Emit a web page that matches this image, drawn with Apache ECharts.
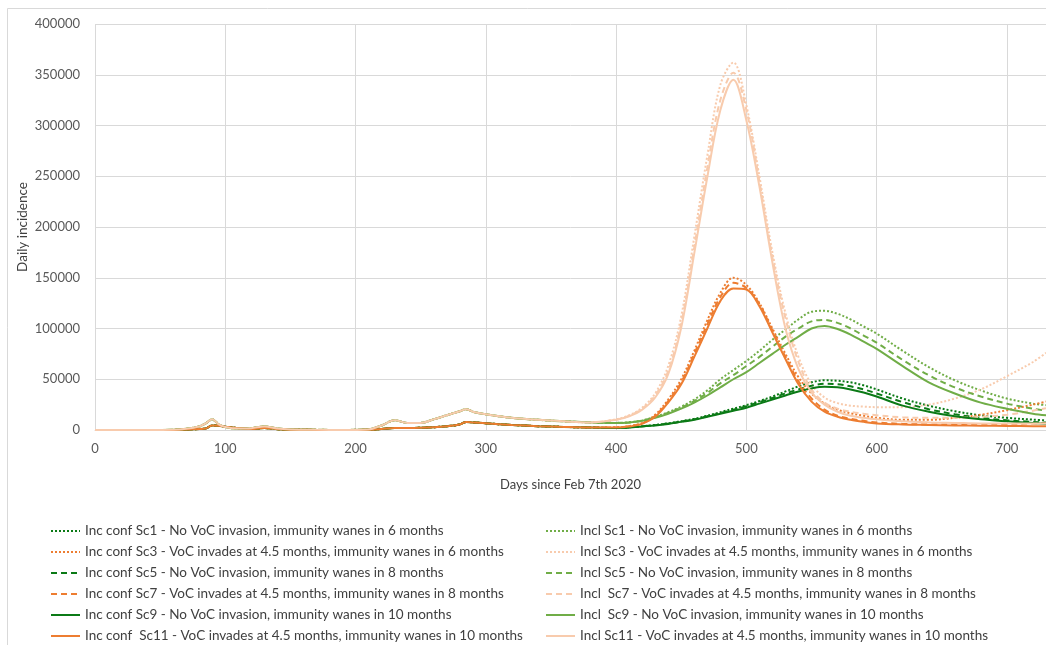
<!DOCTYPE html>
<html>
<head>
<meta charset="utf-8">
<script src="https://cdn.jsdelivr.net/npm/echarts@6/dist/echarts.min.js"></script>
<style>
html,body{margin:0;padding:0;background:#fff;}
#chart{width:1046px;height:645px;}
</style>
</head>
<body>
<div id="chart"></div>
<script>
// Days since Feb 7th 2020 (sample positions)
const days = [0,20,40,60,70,80,85,90,95,100,110,120,130,140,150,170,190,210,220,230,240,250,260,270,280,285,290,300,320,340,360,380,
  400,410,420,430,440,450,460,470,480,490,500,510,520,530,540,550,560,570,580,590,600,620,640,660,680,700,720,730];

// Shared early epidemic (identical for all scenarios before ~day 400)
const confEarly = [0,0,0,100,400,1000,1500,4500,4200,3200,1800,1000,2000,800,300,100,50,200,1000,2000,2000,2200,2800,3800,5500,8000,7500,6600,5000,3800,3000,2500];
const inclEarly = [0,0,0,200,1200,3500,6500,10500,5500,3000,1500,1800,3500,1500,600,200,100,600,4500,9500,7000,7000,10500,14500,18500,20500,18000,15500,12000,10000,8500,7500];

// Values from day 400 onward
const confSc1Late  = [2000,2600,3700,5000,6600,8700,11000,14000,17500,21000,24500,28500,33000,38000,43000,47000,49000,48500,47000,44000,40000,31000,24000,18500,14500,12000,10200,9500];
const confSc3Late  = [2600,3800,7000,15000,30000,50000,78000,108000,135000,150000,143000,125000,100000,75000,52000,36000,26000,20000,16500,14000,12000,10000,10000,12000,15000,19500,25000,28000];
const confSc5Late  = [2000,2550,3600,4800,6300,8300,10500,13500,16700,20000,23500,27500,31500,36000,40000,43500,45500,45000,43000,40000,36000,27500,20500,15500,12000,9500,8000,7300];
const confSc7Late  = [2550,3700,6500,14000,28500,47000,75000,104000,131000,145000,140000,124000,98000,72000,48000,31000,20000,14000,11000,9000,7500,6000,5500,5500,5500,6000,6500,7000];
const confSc9Late  = [2000,2500,3500,4500,6000,8000,10000,13000,16000,19000,22000,26000,30000,34000,38000,41000,42500,42000,40000,37000,33000,24000,18000,13500,10500,8500,6800,6200];
const confSc11Late = [2500,3500,6000,13000,27000,45000,72000,100000,127000,139500,138500,122000,96000,70000,45000,28000,18000,13000,10000,8000,6500,5500,5000,4500,4200,4000,3800,3700];

const inclSc1Late  = [7000,7600,9500,13000,17500,23000,30000,39000,50000,59000,68000,78000,89000,99000,109000,116500,117500,114500,109000,102000,95000,78000,62000,49000,39000,31000,26000,24500];
const inclSc3Late  = [10500,14500,22000,36000,63000,112000,190000,270000,340000,362000,320000,250000,175000,115000,72000,45000,32000,26500,24000,23000,22500,22500,25000,31000,40000,53000,67000,76000];
const inclSc5Late  = [7000,7500,9200,12500,17000,22000,28500,36500,46000,54000,63000,72000,82000,92000,100000,107000,108500,105500,100000,93000,86000,69000,54000,42000,33000,26000,21000,19000];
const inclSc7Late  = [10200,14000,21000,34000,58000,105000,180000,258000,325000,352000,315000,245000,170000,110000,67000,40000,27000,21000,18000,16000,14500,12500,12000,12000,13000,15000,19000,21500];
const inclSc9Late  = [7000,7500,9000,12000,16000,21000,27000,34000,42000,50000,57000,66000,75000,84000,92000,100000,102500,99500,94000,87000,80000,63000,47000,36000,27000,21000,16000,14500];
const inclSc11Late = [10000,13500,20000,32000,55000,101000,174000,249000,315000,345000,305000,240000,165000,100000,60000,37000,25000,18000,14000,12000,10500,8500,7500,7000,6500,6500,6500,6500];

const confNames = [
  'Inc conf Sc1 - No VoC invasion, immunity wanes in 6 months',
  'Inc conf Sc3 - VoC invades at 4.5 months, immunity wanes in 6 months',
  'Inc conf Sc5 - No VoC invasion, immunity wanes in 8 months',
  'Inc conf Sc7 - VoC invades at 4.5 months, immunity wanes in 8 months',
  'Inc conf Sc9 - No VoC invasion, immunity wanes in 10 months',
  'Inc conf  Sc11 - VoC invades at 4.5 months, immunity wanes in 10 months'
];
const inclNames = [
  'Incl Sc1 - No VoC invasion, immunity wanes in 6 months',
  'Incl Sc3 - VoC invades at 4.5 months, immunity wanes in 6 months',
  'Incl Sc5 - No VoC invasion, immunity wanes in 8 months',
  'Incl  Sc7 - VoC invades at 4.5 months, immunity wanes in 8 months',
  'Incl  Sc9 - No VoC invasion, immunity wanes in 10 months',
  'Incl Sc11 - VoC invades at 4.5 months, immunity wanes in 10 months'
];

const confLate = [confSc1Late, confSc3Late, confSc5Late, confSc7Late, confSc9Late, confSc11Late];
const inclLate = [inclSc1Late, inclSc3Late, inclSc5Late, inclSc7Late, inclSc9Late, inclSc11Late];

const DARK_GREEN = '#0b7a16', LIGHT_GREEN = '#70AD47', ORANGE = '#ED7D31', PEACH = '#F8CBAD';
const confColors = [DARK_GREEN, ORANGE, DARK_GREEN, ORANGE, DARK_GREEN, ORANGE];
const inclColors = [LIGHT_GREEN, PEACH, LIGHT_GREEN, PEACH, LIGHT_GREEN, PEACH];
const DOT = [2, 2], DASH = [6, 4];
const types = [DOT, DOT, DASH, DASH, 'solid', 'solid'];

function pts(vals){ return days.map((d, i) => [d, vals[i]]); }
function mk(name, vals, color, type){
  return {
    name: name, type: 'line', data: pts(vals), symbol: 'none', showSymbol: false,
    smooth: 0.35, color: color,
    lineStyle: { width: 2, type: type, color: color },
    emphasis: { disabled: true }
  };
}
const series = [];
for (let i = 0; i < 6; i++) {
  series.push(mk(confNames[i], confEarly.concat(confLate[i]), confColors[i], types[i]));
  series.push(mk(inclNames[i], inclEarly.concat(inclLate[i]), inclColors[i], types[i]));
}

const FONT = 'Lato';
const legendBase = {
  orient: 'vertical', top: 519, height: 200, itemWidth: 29, itemHeight: 14, itemGap: 7,
  itemStyle: { opacity: 0, borderWidth: 0 },
  textStyle: { fontFamily: FONT, fontSize: 13.5, color: '#404040', lineHeight: 14 },
  selectedMode: false
};

const chart = echarts.init(document.getElementById('chart'), null, { renderer: 'canvas' });
chart.setOption({
  animation: false,
  backgroundColor: '#fff',
  textStyle: { fontFamily: FONT },
  graphic: [{
    type: 'rect', silent: true, z: -10,
    shape: { x: 7.5, y: 8.5, width: 1100, height: 700 },
    style: { fill: 'none', stroke: '#d9d9d9', lineWidth: 1 }
  }],
  grid: { left: 95, right: 0, top: 24, bottom: 215, containLabel: false },
  legend: [
    Object.assign({ left: 45, data: confNames }, legendBase),
    Object.assign({ left: 540, data: inclNames }, legendBase)
  ],
  xAxis: {
    type: 'value', min: 0, max: 730, interval: 100,
    name: 'Days since Feb 7th 2020', nameLocation: 'middle', nameGap: 48,
    nameTextStyle: { fontFamily: FONT, fontSize: 13, color: '#404040' },
    axisLine: { show: true, lineStyle: { color: '#d9d9d9', width: 1 } },
    axisTick: { show: false },
    axisLabel: { fontFamily: FONT, fontSize: 13, color: '#595959', margin: 12, showMaxLabel: false },
    splitLine: { show: true, lineStyle: { color: '#d9d9d9', width: 1 } }
  },
  yAxis: {
    type: 'value', min: 0, max: 400000, interval: 50000,
    name: 'Daily incidence', nameLocation: 'middle', nameGap: 65, nameMoveOverlap: false,
    nameTextStyle: { fontFamily: FONT, fontSize: 13.5, color: '#404040' },
    axisLine: { show: false },
    axisTick: { show: false },
    axisLabel: { fontFamily: FONT, fontSize: 13, color: '#595959', margin: 15, formatter: v => String(v) },
    splitLine: { show: true, lineStyle: { color: '#d9d9d9', width: 1 } }
  },
  series: series
});
</script>
</body>
</html>
